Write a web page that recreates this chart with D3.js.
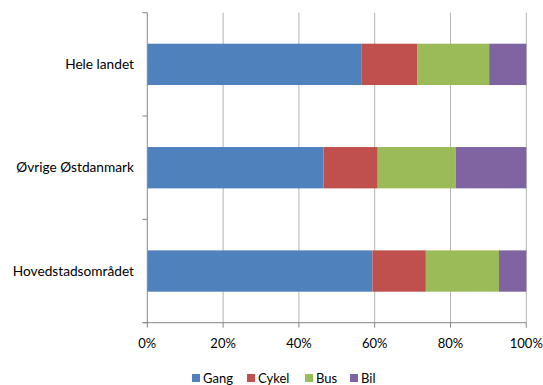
<!DOCTYPE html>
<html>
<head>
<meta charset="utf-8">
<script src="https://cdn.jsdelivr.net/npm/d3@7"></script>
<style>
  html, body { margin: 0; padding: 0; background: #fff; }
  svg text { font-family: Lato, "Open Sans", sans-serif; fill: #000; }
</style>
</head>
<body>
<svg id="chart" width="543" height="385"></svg>
<script>
// Transport mode shares (%) per region
const regions = ["Hele landet", "Øvrige Østdanmark", "Hovedstadsområdet"];
const modes = ["Gang", "Cykel", "Bus", "Bil"];
const gang  = [56.6, 46.5, 59.4];
const cykel = [14.7, 14.3, 14.1];
const bus   = [18.9, 20.6, 19.3];
const bil   = [9.8, 18.6, 7.2];
const xTicks = [0, 20, 40, 60, 80, 100];
const colors = ["#4F81BD", "#C0504D", "#9BBB59", "#8064A2"];

const seriesValues = [gang, cykel, bus, bil];
const rows = regions.map((r, i) => {
  const o = { region: r };
  modes.forEach((m, j) => { o[m] = seriesValues[j][i]; });
  return o;
});

const svg = d3.select("#chart");
const plotLeft = 147.3, plotRight = 526.3, plotTop = 12.7, plotBottom = 322.7;

const x = d3.scaleLinear().domain([0, 100]).range([plotLeft, plotRight]);
const y = d3.scaleBand().domain(regions).range([plotTop, plotBottom]).paddingInner(0.6).paddingOuter(0.3);
const yOuter = d3.scaleBand().domain(regions).range([plotTop, plotBottom]);

// vertical gridlines
svg.append("g")
  .selectAll("line")
  .data(xTicks.filter(t => t > 0))
  .join("line")
  .attr("x1", d => x(d)).attr("x2", d => x(d))
  .attr("y1", plotTop).attr("y2", plotBottom)
  .attr("stroke", "#b3b3b3").attr("stroke-width", 1);

// stacked bars
const stack = d3.stack().keys(modes)(rows);
svg.append("g")
  .selectAll("g")
  .data(stack)
  .join("g")
  .attr("fill", (d, i) => colors[i])
  .selectAll("rect")
  .data(d => d)
  .join("rect")
  .attr("x", d => x(d[0]))
  .attr("width", d => x(d[1]) - x(d[0]))
  .attr("y", d => y(d.data.region))
  .attr("height", y.bandwidth());

// category axis (left)
const yAxis = svg.append("g");
yAxis.append("line")
  .attr("x1", plotLeft).attr("x2", plotLeft).attr("y1", plotTop).attr("y2", plotBottom)
  .attr("stroke", "#868686");
const yTickPos = [plotTop, ...regions.map(r => yOuter(r) + yOuter.bandwidth())];
yAxis.selectAll("line.tick")
  .data(yTickPos)
  .join("line").attr("class", "tick")
  .attr("x1", plotLeft - 5).attr("x2", plotLeft)
  .attr("y1", d => d).attr("y2", d => d)
  .attr("stroke", "#868686");
yAxis.selectAll("text")
  .data(regions)
  .join("text")
  .attr("x", 134)
  .attr("y", d => y(d) + y.bandwidth() / 2)
  .attr("dy", "0.35em")
  .attr("text-anchor", "end")
  .attr("font-size", 13.7)
  .text(d => d);

// value axis (bottom)
const xAxis = svg.append("g");
xAxis.append("line")
  .attr("x1", plotLeft - 4).attr("x2", plotRight).attr("y1", plotBottom).attr("y2", plotBottom)
  .attr("stroke", "#868686");
xAxis.selectAll("line.tick")
  .data(xTicks)
  .join("line").attr("class", "tick")
  .attr("x1", d => x(d)).attr("x2", d => x(d))
  .attr("y1", plotBottom).attr("y2", plotBottom + 5)
  .attr("stroke", "#868686");
xAxis.selectAll("text")
  .data(xTicks)
  .join("text")
  .attr("x", d => x(d))
  .attr("y", 343)
  .attr("dy", "0.35em")
  .attr("text-anchor", "middle")
  .attr("font-size", 13)
  .text(d => d + "%");

// legend
const legendX = [192, 247, 305, 350];
const legend = svg.append("g")
  .selectAll("g")
  .data(modes)
  .join("g")
  .attr("transform", (d, i) => `translate(${legendX[i]},378)`);
legend.append("rect")
  .attr("x", 0).attr("y", -4).attr("width", 8).attr("height", 8)
  .attr("fill", (d, i) => colors[i]);
legend.append("text")
  .attr("x", 11).attr("y", 0).attr("dy", "0.35em")
  .attr("font-size", 13)
  .text(d => d);
</script>
</body>
</html>
